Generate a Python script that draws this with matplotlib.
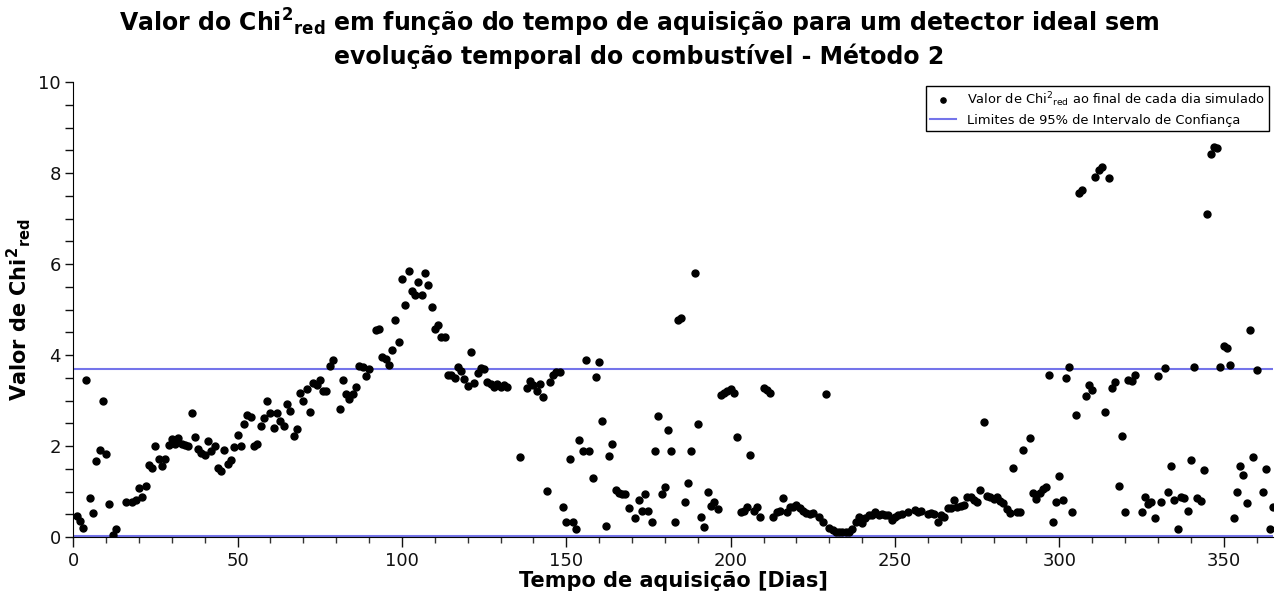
import matplotlib
matplotlib.use("Agg")
import matplotlib.pyplot as plt
from matplotlib.ticker import MultipleLocator

days = [1, 2, 3, 4, 5, 6, 7, 8, 9, 10, 11, 12, 13, 16, 18, 19, 20, 21, 22, 23, 24, 25, 26, 27, 28, 29, 30,
        31, 32, 33, 34, 35, 36, 37, 38, 39, 40, 41, 42, 43, 44, 45, 46, 47, 48, 49, 50, 51, 52, 53, 54, 55,
        56, 57, 58, 59, 60, 61, 62, 63, 64, 65, 66, 67, 68, 69, 70, 71, 72, 73, 74, 75, 76, 77, 78, 79, 81,
        82, 83, 84, 85, 86, 87, 88, 89, 90, 92, 93, 94, 95, 96, 97, 98, 99, 100, 101, 102, 103, 104, 105,
        106, 107, 108, 109, 110, 111, 112, 113, 114, 115, 116, 117, 118, 119, 120, 121, 122, 123, 124, 125,
        126, 127, 128, 129, 130, 131, 132, 136, 138, 139, 140, 141, 142, 143, 144, 145, 146, 147, 148, 149,
        150, 151, 152, 153, 154, 155, 156, 157, 158, 159, 160, 161, 162, 163, 164, 165, 166, 167, 168, 169,
        171, 172, 173, 174, 175, 176, 177, 178, 179, 180, 181, 182, 183, 184, 185, 186, 187, 188, 189, 190,
        191, 192, 193, 194, 195, 196, 197, 198, 199, 200, 201, 202, 203, 204, 205, 206, 207, 208, 209, 210,
        211, 212, 213, 214, 215, 216, 217, 218, 219, 220, 221, 222, 223, 224, 225, 227, 228, 229, 230, 231,
        232, 233, 234, 235, 236, 237, 238, 239, 240, 241, 242, 243, 244, 245, 246, 247, 248, 249, 250, 251,
        252, 254, 256, 257, 258, 260, 261, 262, 263, 264, 265, 266, 267, 268, 269, 270, 271, 272, 273, 274,
        275, 276, 277, 278, 279, 280, 281, 282, 283, 284, 285, 286, 287, 288, 289, 291, 292, 293, 294, 295,
        296, 297, 298, 299, 300, 301, 302, 303, 304, 305, 306, 307, 308, 309, 310, 311, 312, 313, 314, 315,
        316, 317, 318, 319, 320, 321, 322, 323, 325, 326, 327, 328, 329, 330, 331, 332, 333, 334, 335, 336,
        337, 338, 339, 340, 341, 342, 343, 344, 345, 346, 347, 348, 349, 350, 351, 352, 353, 354, 355, 356,
        357, 358, 359, 360, 362, 363, 364, 365]

chi2_red = [0.47, 0.35, 0.19, 3.46, 0.85, 0.52, 1.68, 1.91, 2.98, 1.83, 0.72, 0.05, 0.17, 0.77, 0.76, 0.82,
            1.07, 0.89, 1.13, 1.59, 1.51, 1.99, 1.71, 1.55, 1.71, 2.02, 2.16, 2.04, 2.18, 2.04, 2.02, 1.99,
            2.72, 2.19, 1.94, 1.84, 1.80, 2.11, 1.88, 2.01, 1.51, 1.44, 1.91, 1.60, 1.70, 1.97, 2.25, 2.00,
            2.48, 2.68, 2.64, 1.99, 2.05, 2.43, 2.61, 3.00, 2.73, 2.40, 2.73, 2.54, 2.43, 2.93, 2.78, 2.23,
            2.37, 3.16, 3.00, 3.26, 2.75, 3.38, 3.33, 3.45, 3.20, 3.20, 3.76, 3.90, 2.82, 3.44, 3.14, 3.03,
            3.14, 3.29, 3.75, 3.73, 3.53, 3.70, 4.54, 4.58, 3.95, 3.91, 3.79, 4.10, 4.76, 4.28, 5.66, 5.09,
            5.84, 5.40, 5.33, 5.61, 5.33, 5.81, 5.53, 5.05, 4.57, 4.66, 4.40, 4.39, 3.57, 3.55, 3.50, 3.73,
            3.65, 3.47, 3.31, 4.06, 3.39, 3.61, 3.71, 3.70, 3.40, 3.36, 3.29, 3.36, 3.29, 3.35, 3.30, 1.75,
            3.27, 3.43, 3.35, 3.20, 3.37, 3.07, 1.01, 3.40, 3.55, 3.63, 3.62, 0.65, 0.34, 1.72, 0.32, 0.18,
            2.13, 1.90, 3.88, 1.88, 1.29, 3.51, 3.84, 2.54, 0.25, 1.79, 2.05, 1.04, 0.96, 0.94, 0.94, 0.63,
            0.41, 0.81, 0.57, 0.94, 0.57, 0.32, 1.90, 2.65, 0.94, 1.09, 2.35, 1.88, 0.32, 4.78, 4.82, 0.77,
            1.18, 1.89, 5.80, 2.48, 0.43, 0.21, 1.00, 0.69, 0.76, 0.61, 3.12, 3.17, 3.20, 3.25, 3.16, 2.19,
            0.54, 0.58, 0.65, 1.80, 0.58, 0.65, 0.43, 3.27, 3.23, 3.17, 0.43, 0.55, 0.58, 0.85, 0.55, 0.67,
            0.67, 0.70, 0.63, 0.58, 0.52, 0.50, 0.52, 0.43, 0.34, 3.14, 0.20, 0.15, 0.12, 0.11, 0.10, 0.10,
            0.12, 0.17, 0.32, 0.45, 0.30, 0.42, 0.49, 0.49, 0.54, 0.49, 0.51, 0.49, 0.49, 0.38, 0.43, 0.49,
            0.51, 0.55, 0.60, 0.55, 0.57, 0.50, 0.52, 0.51, 0.34, 0.49, 0.44, 0.64, 0.64, 0.82, 0.66, 0.69,
            0.71, 0.87, 0.87, 0.82, 0.76, 1.04, 2.52, 0.91, 0.87, 0.83, 0.89, 0.79, 0.74, 0.62, 0.52, 1.51,
            0.56, 0.56, 1.91, 2.17, 0.96, 0.83, 0.96, 1.05, 1.09, 3.57, 0.34, 0.78, 1.33, 0.82, 3.49, 3.73,
            0.56, 2.69, 7.57, 7.62, 3.09, 3.33, 3.22, 7.92, 8.07, 8.13, 2.74, 7.90, 3.27, 3.40, 1.12, 2.23,
            0.54, 3.46, 3.43, 3.55, 0.54, 0.88, 0.72, 0.78, 0.41, 3.53, 0.76, 3.71, 0.99, 1.57, 0.81, 0.17,
            0.88, 0.85, 0.58, 1.70, 3.73, 0.85, 0.80, 1.48, 7.09, 8.41, 8.57, 8.55, 3.73, 4.20, 4.15, 3.79,
            0.41, 1.00, 1.57, 1.37, 0.75, 4.54, 1.75, 3.66, 1.00, 1.49, 0.17, 0.67]

ci_limits = [0.0253, 3.689]

title = ("Valor do Chi$^\\mathbf{2}$$_\\mathbf{red}$ em função do tempo de aquisição para um detector ideal sem\n"
         "evolução temporal do combustível - Método 2")
xlabel = "Tempo de aquisição [Dias]"
ylabel = "Valor de Chi$^\\mathbf{2}$$_\\mathbf{red}$"
label_points = "Valor de Chi$^2$$_{\\mathrm{red}}$ ao final de cada dia simulado"
label_lines = "Limites de 95% de Intervalo de Confiança"

plt.rcParams['font.family'] = ['DejaVu Sans']
plt.rcParams['mathtext.default'] = 'regular'

fig = plt.figure(figsize=(12.79, 5.97), dpi=100)
ax = fig.add_axes([0.0573, 0.1005, 0.9380, 0.7621])

ax.plot(days, chi2_red, 'o', color='black', markersize=5, label=label_points, zorder=3)
for i, lim in enumerate(ci_limits):
    ax.axhline(lim, color='#7474ea', lw=1.5, label=label_lines if i == 0 else None, zorder=2)

ax.set_xlim(0, 365)
ax.set_ylim(0, 10)
ax.xaxis.set_major_locator(MultipleLocator(50))
ax.xaxis.set_minor_locator(MultipleLocator(10))
ax.yaxis.set_major_locator(MultipleLocator(2))
ax.yaxis.set_minor_locator(MultipleLocator(0.5))
ax.tick_params(axis='x', which='major', labelsize=13, length=7, width=1, colors='#111111')
ax.tick_params(axis='x', which='minor', length=4, width=1, colors='#333333')
ax.tick_params(axis='y', which='both', labelsize=13, length=5.5, width=1, colors='#111111')
ax.spines['top'].set_visible(False)
ax.spines['right'].set_visible(False)

ax.set_xlabel(xlabel, fontsize=15, fontweight='bold', labelpad=1)
ax.set_ylabel(ylabel, fontsize=15, fontweight='bold', labelpad=4)
fig.suptitle(title, fontsize=17, fontweight='bold', y=0.988)

leg = ax.legend(loc='upper right', fontsize=9.4, fancybox=False, edgecolor='black',
                framealpha=1, borderaxespad=0.3, markerscale=0.75, handlelength=2.0,
                borderpad=0.35, labelspacing=0.35)
leg.get_frame().set_linewidth(1.0)

fig.savefig("out.png", dpi=100)
